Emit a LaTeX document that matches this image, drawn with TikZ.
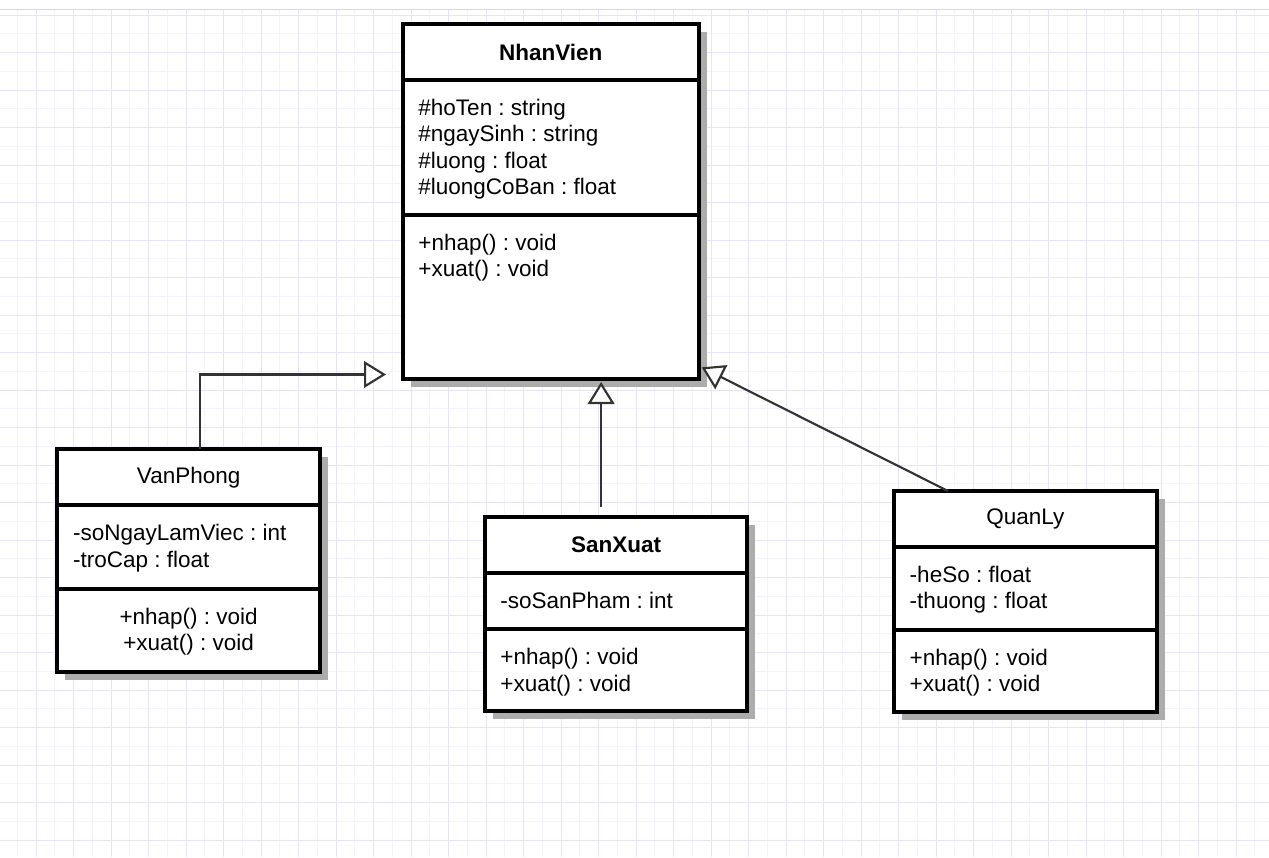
\documentclass[tikz,border=0pt]{standalone}
\usepackage{fontspec}
\setmainfont{Liberation Sans}
\usetikzlibrary{positioning,arrows.meta,shadows}
\frenchspacing

\definecolor{gridmaj}{RGB}{230,228,250}
\definecolor{gridmin}{RGB}{244,243,253}
\definecolor{linkgray}{RGB}{51,51,51}
\definecolor{boxshadow}{RGB}{172,172,172}

\begin{document}
\begin{tikzpicture}[x=0.75pt,y=-0.75pt,
  font=\fontsize{16.875}{19.7}\selectfont,
  part/.style={draw,line width=3pt,fill=white,outer sep=0pt,inner sep=0pt,
    drop shadow={shadow xshift=6pt,shadow yshift=-6pt,fill=boxshadow,opacity=1}},
  head/.style={part,minimum height=42pt,anchor=north west},
  members/.style={anchor=north west,align=left,inner sep=0pt,xshift=11.6pt,yshift=-14.25pt},
  gen/.style={draw=linkgray,line width=1.6pt,-{Triangle[open,length=16.5pt,width=20pt,fill=white]}}]

 \useasboundingbox (0,0) rectangle (1269,857);
 \fill[white] (0,0) rectangle (1269,857);

 % grid
 \foreach \x in {17.25,54.75,...,1269} \draw[gridmin,line width=0.75pt] (\x,9.3) -- (\x,857);
 \foreach \y in {33.75,71.25,...,857} \draw[gridmin,line width=0.75pt] (0,\y) -- (1269,\y);
 \foreach \x in {-1.5,36,...,1269} \draw[gridmaj,line width=0.75pt] (\x,9.3) -- (\x,857);
 \foreach \y in {15,52.5,...,857} \draw[gridmaj,line width=0.75pt] (0,\y) -- (1269,\y);
 \draw[black!15,line width=0.75pt] (0,9.3) -- (1269,9.3);

 % NhanVien
 \node[head,minimum width=222pt] (nvh) at (402.7,24) {\textbf{NhanVien}};
 \node[part,minimum width=222pt,minimum height=101.25pt,below=0pt of nvh] (nva) {};
 \node[part,minimum width=222pt,minimum height=123.25pt,below=0pt of nva] (nvm) {};
 \node[members] (nvat) at (nva.north west) {\#hoTen : string\\\#ngaySinh : string\\\#luong : float\\\#luongCoBan : float};
 \node[members] (nvmt) at (nvm.north west) {+nhap() : void\\+xuat() : void};

 % VanPhong
 \node[head,minimum width=197pt] (vph) at (57.3,449.3) {VanPhong};
 \node[part,minimum width=197pt,minimum height=62.5pt,below=0pt of vph] (vpa) {};
 \node[part,minimum width=197pt,minimum height=62.5pt,below=0pt of vpa] (vpm) {};
 \node[members] (vpat) at (vpa.north west) {-soNgayLamViec : int\\-troCap : float};
 \node[anchor=north,align=center,inner sep=0pt,yshift=-14.25pt] (vpmt) at (vpm.north) {+nhap() : void\\+xuat() : void};

 % SanXuat
 \node[head,minimum width=197pt] (sxh) at (484.7,516.7) {\textbf{SanXuat}};
 \node[part,minimum width=197pt,minimum height=42.5pt,below=0pt of sxh] (sxa) {};
 \node[part,minimum width=197pt,minimum height=61.5pt,below=0pt of sxa] (sxm) {};
 \node[members] (sxat) at (sxa.north west) {-soSanPham : int};
 \node[members] (sxmt) at (sxm.north west) {+nhap() : void\\+xuat() : void};

 % QuanLy
 \node[head,minimum width=197pt] (qlh) at (894,491) {QuanLy};
 \node[part,minimum width=197pt,minimum height=62pt,below=0pt of qlh] (qla) {};
 \node[part,minimum width=197pt,minimum height=61.5pt,below=0pt of qla] (qlm) {};
 \node[members] (qlat) at (qla.north west) {-heSo : float\\-thuong : float};
 \node[members] (qlmt) at (qlm.north west) {+nhap() : void\\+xuat() : void};

 % generalisations
 \coordinate (vpend) at (386,374.5);
 \coordinate (sxs) at ([shift={(-11.2pt,7.5pt)}]sxh.north);
 \coordinate (qls) at ([xshift=-58pt]qlh.north);

 \draw[gen] ([xshift=8.5pt]vph.north) |- (vpend);
 \draw[gen,shorten >=2pt] (sxs) -- (sxs |- nvm.south);
 \draw[gen] (qls) -- ([shift={(2.25pt,9pt)}]nvm.south east);

\end{tikzpicture}
\end{document}
